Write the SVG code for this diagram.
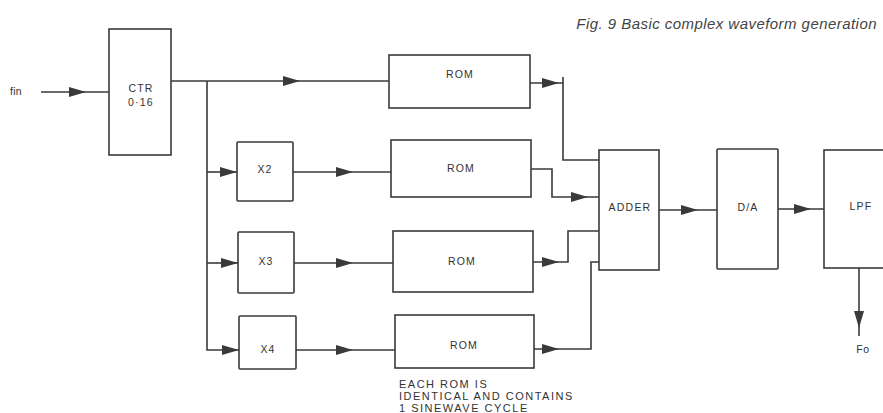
<svg xmlns="http://www.w3.org/2000/svg" width="883" height="413" viewBox="0 0 883 413">
<style>
.box{fill:#fff;stroke:#3a3a3a;stroke-width:1.6}
.ln{fill:none;stroke:#3a3a3a;stroke-width:1.6}
.t{font-family:"Liberation Sans",Arial,sans-serif;font-size:10.5px;fill:#333;text-anchor:middle;letter-spacing:1.2px}
.note{font-family:"Liberation Sans",Arial,sans-serif;font-size:11px;fill:#333;letter-spacing:1.5px}
.title{font-family:"Liberation Sans",Arial,sans-serif;font-size:15px;font-style:italic;fill:#444;text-anchor:end;letter-spacing:0.45px}
.ah{fill:#3a3a3a}
</style>
<defs>
<path id="ah" class="ah" d="M0,0 L-17,-5 L-17,5 Z"/>
</defs>
<text class="title" x="877" y="29">Fig. 9 Basic complex waveform generation</text>

<g id="connectors">
<path class="ln" d="M41,92 H109"/>
<use href="#ah" transform="translate(86,92)"/>
<path class="ln" d="M171,81 H389"/>
<use href="#ah" transform="translate(300,81)"/>
<path class="ln" d="M207,81 V350 H239"/>
<path class="ln" d="M207,172 H237"/>
<path class="ln" d="M207,263 H238"/>
<use href="#ah" transform="translate(237,172)"/>
<use href="#ah" transform="translate(238,263)"/>
<use href="#ah" transform="translate(239,350)"/>
<path class="ln" d="M293,172 H391"/>
<use href="#ah" transform="translate(353,172)"/>
<path class="ln" d="M294,263 H393"/>
<use href="#ah" transform="translate(353,263)"/>
<path class="ln" d="M296,350 H395"/>
<use href="#ah" transform="translate(353,350)"/>
<path class="ln" d="M530,83 H563 M563,77 V160 H599"/>
<use href="#ah" transform="translate(559,83)"/>
<path class="ln" d="M531,169 H552 V197 H599"/>
<use href="#ah" transform="translate(588,197)"/>
<path class="ln" d="M533,262 H568 V231 H599"/>
<use href="#ah" transform="translate(559,262)"/>
<path class="ln" d="M534,349 H591 V262 H599"/>
<use href="#ah" transform="translate(559,349)"/>
<path class="ln" d="M659,210 H717"/>
<use href="#ah" transform="translate(698,210)"/>
<path class="ln" d="M778,209 H824"/>
<use href="#ah" transform="translate(811,209)"/>
<path class="ln" d="M859,268 V336"/>
<use href="#ah" transform="translate(859,328) rotate(90)"/>
</g>

<g id="fin"><text class="t" x="16" y="95" style="letter-spacing:0.3px">fin</text></g>
<g id="ctr"><rect class="box" x="109" y="29" width="62" height="126"/><text class="t" x="141" y="92">CTR</text><text class="t" x="141" y="106">0·16</text></g>
<g id="rom1"><rect class="box" x="389" y="55" width="141" height="53"/><text class="t" x="460" y="78">ROM</text></g>
<g id="x2"><rect class="box" x="237" y="142" width="56" height="59" rx="1"/><text class="t" x="265" y="173">X2</text></g>
<g id="rom2"><rect class="box" x="391" y="140" width="140" height="57"/><text class="t" x="461" y="172">ROM</text></g>
<g id="x3"><rect class="box" x="238" y="232" width="56" height="61" rx="1"/><text class="t" x="266" y="265">X3</text></g>
<g id="rom3"><rect class="box" x="393" y="231" width="140" height="61"/><text class="t" x="462" y="265">ROM</text></g>
<g id="x4"><rect class="box" x="239" y="316" width="57" height="53" rx="1"/><text class="t" x="268" y="353">X4</text></g>
<g id="rom4"><rect class="box" x="395" y="315" width="139" height="53"/><text class="t" x="464" y="349">ROM</text></g>
<g id="adder"><rect class="box" x="599" y="150" width="60" height="120"/><text class="t" x="630" y="211">ADDER</text></g>
<g id="da"><rect class="box" x="717" y="149" width="61" height="120" rx="1"/><text class="t" x="748" y="211">D/A</text></g>
<g id="lpf"><rect class="box" x="824" y="150" width="70" height="118"/><text class="t" x="861" y="210">LPF</text></g>
<g id="fo"><text class="t" x="863" y="353" style="letter-spacing:0.6px">Fo</text></g>
<g id="note">
<text class="note" x="399" y="388">EACH ROM IS</text>
<text class="note" x="399" y="400">IDENTICAL AND CONTAINS</text>
<text class="note" x="399" y="412">1 SINEWAVE  CYCLE</text>
</g>
</svg>
